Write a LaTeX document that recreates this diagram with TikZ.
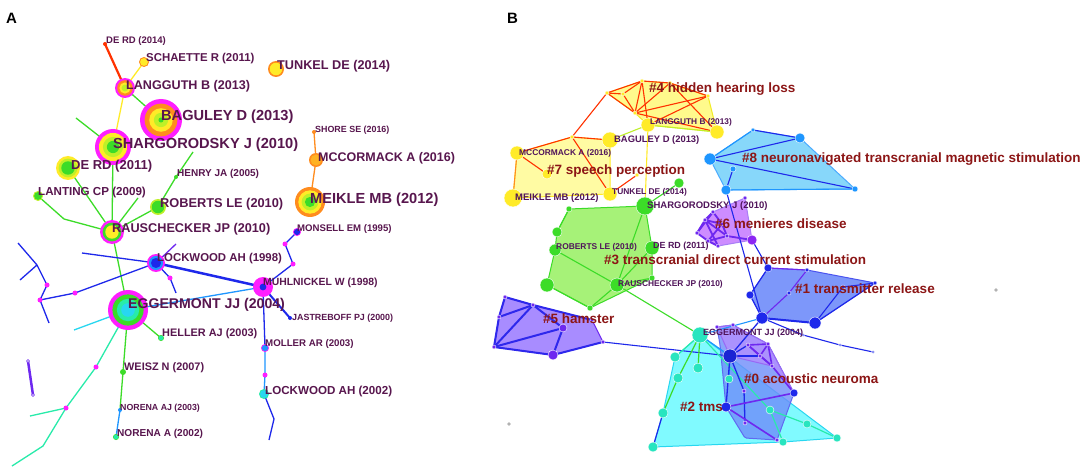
\documentclass[tikz,border=0pt]{standalone}
\usepackage{fontspec}
\setmainfont{Liberation Sans}
\definecolor{lbl}{RGB}{88,22,78}
\definecolor{blbl}{RGB}{80,20,90}
\definecolor{clbl}{RGB}{140,22,22}
\definecolor{burst}{RGB}{255,30,255}
\definecolor{yred}{RGB}{255,50,0}
\definecolor{yorange}{RGB}{255,140,30}
\definecolor{yyellow}{RGB}{255,235,40}
\definecolor{ylime}{RGB}{190,240,40}
\definecolor{ygreen}{RGB}{60,220,40}
\definecolor{yspring}{RGB}{40,235,170}
\definecolor{ycyan}{RGB}{40,215,240}
\definecolor{ysky}{RGB}{30,150,255}
\definecolor{yblue}{RGB}{30,40,235}
\definecolor{ypurple}{RGB}{110,40,240}
\definecolor{hyellow}{RGB}{255,250,140}
\definecolor{hgreen}{RGB}{166,242,120}
\definecolor{hpurple}{RGB}{168,140,255}
\definecolor{hcyan}{RGB}{128,250,255}
\definecolor{hblue}{RGB}{110,140,250}
\definecolor{hlilac}{RGB}{205,140,255}
\definecolor{hsky}{RGB}{135,215,250}
\newcommand\ringnode[4]{\coordinate (#1) at (#2);
  \foreach \rc [count=\k] in {#4} {\fill[\rc] (#1) circle ({#3*(1-0.22*(\k-1))*1pt});}}
\newcommand\bdot[3]{\filldraw[fill=#3, draw=white, line width=0.4pt] (#1) circle (#2pt);}
\tikzset{
  ed/.style={draw=#1, line width=1.3pt},
  hull/.style={fill=#1, rounded corners=1.5pt, line width=1pt},
  labA/.style={anchor=west, inner sep=0pt, text=lbl, font=\fontsize{#1}{#1}\selectfont\bfseries},
  labB/.style={anchor=west, inner sep=0pt, text=blbl, font=\fontsize{#1}{#1}\selectfont\bfseries},
  clus/.style={anchor=west, inner sep=0pt, text=clbl, font=\fontsize{13.5}{14}\selectfont\bfseries},
  panel/.style={anchor=west, inner sep=0pt, font=\fontsize{15}{15}\selectfont\bfseries}
}
\begin{document}
\begin{tikzpicture}[x=1pt, y=-1pt]
  \useasboundingbox (0,0) rectangle (1084,473);
  \fill[white] (0,0) rectangle (1084,473);

  % ---- panel A: timeline of co-cited references
  \coordinate (dra) at (105,44);   \coordinate (sch) at (144,62);
  \coordinate (lan) at (125,88);   \coordinate (tun) at (276,69);
  \coordinate (bag) at (161,120);  \coordinate (sha) at (113,147);
  \coordinate (drb) at (68,168);   \coordinate (sho) at (314,132);
  \coordinate (mcc) at (316,160);  \coordinate (mei) at (310,202);
  \coordinate (lnt) at (38,196);   \coordinate (hen) at (176,177);
  \coordinate (rob) at (158,207);  \coordinate (rau) at (112,232);
  \coordinate (mon) at (297,232);  \coordinate (lka) at (156,263);
  \coordinate (muh) at (263,287);  \coordinate (egg) at (128,310);
  \coordinate (jas) at (290,318);  \coordinate (hel) at (161,338);
  \coordinate (mol) at (265,348);  \coordinate (wei) at (123,372);
  \coordinate (lkb) at (264,394);  \coordinate (nra) at (120,410);
  \coordinate (nrb) at (116,437);
  \coordinate (a1) at (76,118);  \coordinate (a3) at (64,219);
  \coordinate (a4) at (193,152); \coordinate (a5) at (138,198);
  \coordinate (b1) at (18,243);  \coordinate (b2) at (37,265);
  \coordinate (b3) at (20,280);  \coordinate (b4) at (47,285);
  \coordinate (b5) at (40,300);  \coordinate (b6) at (49,323);
  \coordinate (b7) at (75,293);  \coordinate (b8) at (82,253);
  \coordinate (b9) at (176,244); \coordinate (b10) at (170,278);
  \coordinate (b11) at (176,293);
  \coordinate (c1) at (285,244); \coordinate (c2) at (293,264);
  \coordinate (d1) at (74,330);  \coordinate (d2) at (96,367);
  \coordinate (d3) at (66,408);  \coordinate (d4) at (30,416);
  \coordinate (d5) at (43,446);  \coordinate (d6) at (12,466);
  \coordinate (e1) at (265,375); \coordinate (e2) at (274,419);
  \coordinate (e3) at (269,440);
  \coordinate (p1) at (28,361);  \coordinate (p2) at (33,395);

  \draw[ed=yred, line width=2.2pt] (dra) -- (lan);
  \draw[ed=yyellow] (sch) -- (lan);
  \draw[ed=yyellow] (lan) -- (sha);
  \draw[ed=ygreen] (lan) -- (bag);
  \draw[ed=ygreen] (a1) -- (sha) -- (rau);
  \draw[ed=ygreen] (drb) -- (rau);
  \draw[ed=ygreen] (lnt) -- (a3) -- (rau);
  \draw[ed=ygreen] (a4) -- (hen) -- (rob) -- (rau);
  \draw[ed=ygreen] (a5) -- (rau);
  \draw[ed=ygreen] (rau) -- (egg);
  \draw[ed=yorange] (sho) -- (mcc) -- (mei);
  \draw[ed=yblue] (b1) -- (b2) -- (b4) -- (b5) -- (b6);
  \draw[ed=yblue] (b3) -- (b2);
  \draw[ed=yblue] (b5) -- (b7) -- (lka);
  \draw[ed=yblue] (b8) -- (lka);
  \draw[ed=ypurple] (lka) -- (b9);
  \draw[ed=yblue] (lka) -- (b10) -- (b11);
  \draw[ed=yblue, line width=2.5pt] (lka) -- (muh);
  \draw[ed=ysky] (egg) -- (muh);
  \draw[ed=yblue] (muh) -- (c2) -- (c1) -- (mon);
  \draw[ed=yblue, line width=2pt] (muh) -- (jas);
  \draw[ed=yblue] (muh) -- (mol);
  \draw[ed=ysky] (mol) -- (e1) -- (lkb);
  \draw[ed=yblue] (lkb) -- (e2) -- (e3);
  \draw[ed=ycyan] (egg) -- (d1);
  \draw[ed=ygreen] (egg) -- (hel);
  \draw[ed=ygreen] (egg) -- (wei) -- (nra);
  \draw[ed=ysky] (nra) -- (nrb);
  \draw[ed=yspring] (egg) -- (d2) -- (d3) -- (d5) -- (d6);
  \draw[ed=yspring] (d3) -- (d4);
  \draw[ed=ypurple, line width=2.5pt] (p1) -- (p2);

  \ringnode{dra}{105,44}{2}{yred}
  \ringnode{sch}{144,62}{5}{yorange,yyellow}
  \ringnode{lan}{125,88}{10}{burst,yorange,yyellow,ylime}
  \ringnode{tun}{276,69}{8}{yorange,yyellow}
  \ringnode{bag}{161,120}{21}{burst,yorange,yyellow,ylime,ygreen}
  \ringnode{sha}{113,147}{18}{burst,yyellow,ylime,ygreen}
  \ringnode{drb}{68,168}{12}{yyellow,ylime,ygreen}
  \ringnode{sho}{314,132}{2}{yorange}
  \ringnode{mcc}{316,160}{7}{yorange,yorange!60!yyellow}
  \ringnode{mei}{310,202}{15}{yorange,yyellow,ylime,ygreen}
  \ringnode{lnt}{38,196}{5}{ylime,ygreen}
  \ringnode{hen}{176,177}{2}{ygreen}
  \ringnode{rob}{158,207}{8}{ylime,ygreen}
  \ringnode{rau}{112,232}{12}{burst,ygreen,yyellow}
  \ringnode{mon}{297,232}{4}{burst,yblue}
  \ringnode{lka}{156,263}{9}{burst,ysky,yblue}
  \ringnode{muh}{263,287}{10}{burst,burst,burst,yblue}
  \ringnode{egg}{128,310}{20}{burst,ygreen,yspring,ycyan}
  \ringnode{jas}{290,318}{2}{yblue}
  \ringnode{hel}{161,338}{3}{ygreen,yspring}
  \ringnode{mol}{265,348}{4}{burst,ysky}
  \ringnode{wei}{123,372}{3}{ygreen}
  \ringnode{lkb}{264,394}{5}{yspring,ycyan}
  \ringnode{nra}{120,410}{2}{ysky}
  \ringnode{nrb}{116,437}{3}{ygreen,yspring}
  \foreach \j in {b4,b5,b7,b10,c1,c2,d2,d3,e1} {\fill[burst] (\j) circle (2.5pt);}
  \foreach \j in {p1,p2} {\filldraw[fill=white, draw=ypurple] (\j) circle (1.5pt);}

  \node[panel] (pa) at (6,18) {A};
  \node[labA=9.5] (tdra) at (106,41) {DE RD (2014)};
  \node[labA=11.4] (tsch) at (146,59) {SCHAETTE R (2011)};
  \node[labA=12.6] (tlan) at (126,86) {LANGGUTH B (2013)};
  \node[labA=12.7] (ttun) at (277,66) {TUNKEL DE (2014)};
  \node[labA=14.6] (tbag) at (161,117) {BAGULEY D (2013)};
  \node[labA=14.6] (tsha) at (113,145) {SHARGORODSKY J (2010)};
  \node[labA=13] (tdrb) at (71,166) {DE RD (2011)};
  \node[labA=8.9] (tsho) at (315,130) {SHORE SE (2016)};
  \node[labA=12.5] (tmcc) at (318,158) {MCCORMACK A (2016)};
  \node[labA=14.6] (tmei) at (310,200) {MEIKLE MB (2012)};
  \node[labA=11.6] (tlnt) at (38,193) {LANTING CP (2009)};
  \node[labA=10] (then) at (177,174) {HENRY JA (2005)};
  \node[labA=12.8] (trob) at (160,204) {ROBERTS LE (2010)};
  \node[labA=12.7] (trau) at (112,229) {RAUSCHECKER JP (2010)};
  \node[labA=9.6] (tmon) at (297,229) {MONSELL EM (1995)};
  \node[labA=11.4] (tlka) at (157,259) {LOCKWOOD AH (1998)};
  \node[labA=10.4] (tmuh) at (263,283) {MUHLNICKEL W (1998)};
  \node[labA=14.1] (tegg) at (128,305) {EGGERMONT JJ (2004)};
  \node[labA=8.9] (tjas) at (292,318) {JASTREBOFF PJ (2000)};
  \node[labA=10.9] (thel) at (162,334) {HELLER AJ (2003)};
  \node[labA=9.7] (tmol) at (265,344) {MOLLER AR (2003)};
  \node[labA=10.9] (twei) at (124,368) {WEISZ N (2007)};
  \node[labA=11.6] (tlkb) at (265,391) {LOCKWOOD AH (2002)};
  \node[labA=8.8] (tnra) at (120,408) {NORENA AJ (2003)};
  \node[labA=10.1] (tnrb) at (117,434) {NORENA A (2002)};

  % ---- panel B: clusters
  \coordinate (f1) at (607,93);  \coordinate (f2) at (623,94);
  \coordinate (f3) at (642,81);  \coordinate (f4) at (670,83);
  \coordinate (f5) at (708,96);  \coordinate (f6) at (635,113);
  \coordinate (flan) at (648,125); \coordinate (f7) at (717,132);
  \coordinate (gmcc) at (517,153); \coordinate (gmei) at (513,198);
  \coordinate (g3) at (547,174);   \coordinate (g4) at (572,137);
  \coordinate (gbag) at (610,140); \coordinate (gtun) at (610,194);
  \coordinate (g5) at (637,175);
  \coordinate (gsha) at (645,206); \coordinate (h1) at (569,209);
  \coordinate (h2) at (557,232);   \coordinate (hrob) at (555,250);
  \coordinate (hdr) at (652,248);  \coordinate (h3) at (547,285);
  \coordinate (hrau) at (617,285); \coordinate (h4) at (590,308);
  \coordinate (h5) at (652,278);   \coordinate (h6) at (679,183);
  \coordinate (k1) at (505,297); \coordinate (k2) at (499,317);
  \coordinate (k3) at (533,305); \coordinate (k4) at (494,347);
  \coordinate (k5) at (563,328); \coordinate (k6) at (553,355);
  \coordinate (k7) at (603,342); \coordinate (k8) at (592,320);
  \coordinate (beg) at (700,335); \coordinate (m0) at (730,356);
  \coordinate (n1) at (675,357); \coordinate (n2) at (678,378);
  \coordinate (n3) at (663,413); \coordinate (n4) at (653,447);
  \coordinate (n5) at (698,368); \coordinate (n6) at (729,379);
  \coordinate (n7) at (770,410); \coordinate (n8) at (807,424);
  \coordinate (n9) at (837,438); \coordinate (n10) at (783,442);
  \coordinate (o1) at (726,407); \coordinate (o2) at (744,391);
  \coordinate (o3) at (794,393); \coordinate (o4) at (777,440);
  \coordinate (o5) at (745,423);
  \coordinate (q1) at (748,345); \coordinate (q2) at (768,344);
  \coordinate (q3) at (772,366); \coordinate (q4) at (760,356);
  \coordinate (q5) at (717,327); \coordinate (q6) at (733,325);
  \coordinate (r1) at (768,268); \coordinate (r2) at (807,270);
  \coordinate (r3) at (875,283); \coordinate (r4) at (843,287);
  \coordinate (r5) at (789,293); \coordinate (r6) at (750,295);
  \coordinate (r7) at (762,318); \coordinate (r8) at (815,323);
  \coordinate (r9) at (803,335); \coordinate (r10) at (840,345);
  \coordinate (r11) at (873,352);
  \coordinate (s1) at (697,233); \coordinate (s2) at (713,212);
  \coordinate (s3) at (745,198); \coordinate (s4) at (752,240);
  \coordinate (s5) at (718,246); \coordinate (s6) at (705,220);
  \coordinate (s7) at (722,224); \coordinate (s8) at (708,241);
  \coordinate (s9) at (727,236);
  \coordinate (t1) at (753,130); \coordinate (t2) at (800,138);
  \coordinate (t3) at (710,159); \coordinate (t4) at (726,190);
  \coordinate (t5) at (733,169); \coordinate (t6) at (855,189);
  \coordinate (gd1) at (996,290); \coordinate (gd2) at (509,424);

  \filldraw[hull=hyellow, draw=yyellow!80!ylime] (f1) -- (f3) -- (f4) -- (f5) -- (f7) -- (flan) -- (f6) -- cycle;
  \filldraw[hull=hyellow!80!white, draw=yyellow] (gmcc) -- (g4) -- (gbag) -- (gtun) -- (gmei) -- cycle;
  \filldraw[hull=hgreen, draw=ygreen] (h1) -- (gsha) -- (hdr) -- (h5) -- (h4) -- (h3) -- (hrob) -- (h2) -- cycle;
  \filldraw[hull=hpurple, draw=ypurple] (k1) -- (k3) -- (k8) -- (k7) -- (k6) -- (k4) -- (k2) -- cycle;
  \filldraw[hull=hcyan, draw=ycyan] (beg) -- (n9) -- (n10) -- (n4) -- (n3) -- (n1) -- cycle;
  \filldraw[hull=hblue, draw=yblue!70, fill opacity=0.8] (q5) -- (q6) -- (q2) -- (o3) -- (o4) -- (745,438) -- (o1) -- (720,345) -- cycle;
  \filldraw[hull=hlilac!80!hblue, draw=ypurple!70, fill opacity=0.7] (q5) -- (q6) -- (q2) -- (o3) -- (q3) -- (m0) -- cycle;
  \filldraw[hull=hblue!90!white, draw=yblue!80] (r1) -- (r2) -- (r3) -- (r8) -- (r7) -- (r6) -- cycle;
  \filldraw[hull=hlilac, draw=ypurple!60] (s1) -- (s2) -- (s3) -- (s4) -- (s5) -- cycle;
  \filldraw[hull=hsky, draw=ysky!80] (t1) -- (t2) -- (t6) -- (t4) -- (t3) -- cycle;

  \foreach \u/\v in {f1/f3, f2/f3, f1/f2, f3/f4, f4/f5, f1/f6, f2/f6, f3/f6, f4/f6, f6/f5, f3/flan, f6/f7, f4/f7, f5/flan,
      gmcc/g4, g4/gbag, g4/gtun, gmcc/g3, gtun/g5, f1/g4}
    {\draw[ed=yred, line width=1.1pt] (\u) -- (\v);}
  \draw[ed=yorange, line width=1.1pt] (gmcc) -- (gmei);
  \draw[ed=ylime, line width=1.1pt] (gbag) -- (flan) -- (f7);
  \draw[ed=yyellow, line width=1.1pt] (flan) -- (gsha);
  \foreach \u/\v in {h6/gsha, gsha/hrau, hrob/hrau, h3/h4, h4/hrau, hrau/h5, hdr/hrau, h1/h2, hrau/beg}
    {\draw[ed=ygreen, line width=1.1pt] (\u) -- (\v);}
  \foreach \u/\v in {k1/k2, k1/k3, k2/k3, k2/k4, k3/k4, k4/k5, k4/k6, k3/k5, k5/k6, k6/k7, k3/k8}
    {\draw[ed=yblue!80!ypurple, line width=2pt] (\u) -- (\v);}
  \draw[ed=yblue, line width=1.1pt] (k7) -- (m0);
  \foreach \u/\v in {beg/n1, beg/n7, n7/n8, n8/n9, n7/n10}
    {\draw[ed=yspring, line width=1.2pt] (\u) -- (\v);}
  \foreach \u/\v in {beg/n2, n2/n3, beg/n5}
    {\draw[ed=ygreen, line width=1.2pt] (\u) -- (\v);}
  \draw[ed=yblue, line width=1.2pt] (n3) -- (n4);
  \draw[ed=ysky, line width=1.2pt] (beg) -- (m0) -- (n6);
  \foreach \u/\v in {m0/o1, m0/o2, o2/o5, m0/q1, q4/m0, r7/m0}
    {\draw[ed=yblue, line width=1.3pt] (\u) -- (\v);}
  \foreach \u/\v in {o1/o4, o1/o3, o3/q3, q1/q2, q2/q3, q3/q4, q1/q3, q2/q4, q1/q4}
    {\draw[ed=ypurple, line width=1.6pt] (\u) -- (\v);}
  \foreach \u/\v in {r1/r2, r2/r5, r5/r7}
    {\draw[ed=ypurple, line width=1.1pt] (\u) -- (\v);}
  \draw[ed=yblue, line width=2pt] (r7) -- (r8);
  \foreach \u/\v in {r8/r3, r8/r4, r4/r3, r7/r6, r6/r1, r7/r9, r9/r10, r10/r11, t4/r7, s4/r1}
    {\draw[ed=yblue, line width=1.1pt] (\u) -- (\v);}
  \draw[ed=ysky, line width=1.1pt] (r7) -- (beg);
  \foreach \u/\v in {s6/s7, s6/s9, s7/s8, s8/s9, s1/s6, s1/s8, s2/s7, s6/s5, s9/s4, s1/s2, s7/s9, s8/s5, s2/s6}
    {\draw[ed=ypurple, line width=1.8pt] (\u) -- (\v);}
  \foreach \u/\v in {t1/t2, t3/t2, t3/t6, t5/t4}
    {\draw[ed=yblue, line width=1.1pt] (\u) -- (\v);}
  \draw[ed=ysky, line width=1.1pt] (t4) -- (t6);
  \draw[ed=ysky, line width=1.1pt] (t3) -- (t1);

  \foreach \j in {f1,f2,f3,f4,f5,f6,g4,g5} {\bdot{\j}{2}{yyellow}}
  \bdot{flan}{7}{yyellow} \bdot{f7}{7}{yyellow}
  \bdot{gmcc}{7}{yyellow} \bdot{gmei}{9}{yyellow} \bdot{g3}{5}{yyellow}
  \bdot{gbag}{8}{yyellow} \bdot{gtun}{7}{yyellow}
  \bdot{gsha}{9}{ygreen} \bdot{h6}{5}{ygreen} \bdot{h1}{3}{ygreen}
  \bdot{h2}{5}{ygreen} \bdot{hrob}{6}{ygreen} \bdot{hdr}{7}{ygreen}
  \bdot{h3}{7}{ygreen} \bdot{hrau}{7}{ygreen} \bdot{h4}{3}{ygreen} \bdot{h5}{3}{ygreen}
  \foreach \j in {k1,k2,k3,k4,k7,k8} {\bdot{\j}{2}{ypurple}}
  \bdot{k5}{4}{ypurple} \bdot{k6}{5}{ypurple}
  \bdot{beg}{8}{yspring!70!ycyan}
  \foreach \j in {n1,n2,n3,n4,n5} {\bdot{\j}{5}{yspring!70!ycyan}}
  \foreach \j in {n6,n7,n8,n9,n10} {\bdot{\j}{4}{yspring!70!ycyan}}
  \bdot{m0}{7}{yblue!90!black} \bdot{o1}{5}{yblue} \bdot{o3}{4}{yblue}
  \foreach \j in {o2,o4,o5,q1,q2,q3,q4,q5,q6} {\bdot{\j}{2}{ypurple}}
  \bdot{r1}{4}{yblue} \bdot{r6}{4}{yblue} \bdot{r7}{6}{yblue} \bdot{r8}{6}{yblue}
  \foreach \j in {r2,r3,r4,r5} {\bdot{\j}{2}{yblue}}
  \foreach \j in {r9,r10,r11} {\bdot{\j}{1.5}{yblue}}
  \bdot{s4}{5}{ypurple!80!burst}
  \foreach \j in {s1,s2,s3,s5,s6,s7,s8,s9} {\bdot{\j}{2}{ypurple}}
  \bdot{t3}{6}{ysky} \bdot{t2}{5}{ysky} \bdot{t4}{5}{ysky}
  \bdot{t5}{3}{ysky} \bdot{t1}{2}{ysky} \bdot{t6}{3}{ysky}
  \fill[gray!60] (gd1) circle (1.8pt);
  \fill[gray!60] (gd2) circle (1.8pt);

  \node[panel] (pb) at (507,18) {B};
  \node[clus] (c4) at (649,89) {\#4 hidden hearing loss};
  \node[labB=8.3] (blan) at (650,122) {LANGGUTH B (2013)};
  \node[labB=9.4] (bbag) at (614,140) {BAGULEY D (2013)};
  \node[labB=8.4] (bmcc) at (519,153) {MCCORMACK A (2016)};
  \node[clus] (c7) at (547,171) {\#7 speech perception};
  \node[labB=9.5] (bmei) at (515,198) {MEIKLE MB (2012)};
  \node[labB=8.4] (btun) at (612,192) {TUNKEL DE (2014)};
  \node[labB=9.5] (bsha) at (647,206) {SHARGORODSKY J (2010)};
  \node[labB=8.4] (brob) at (556,247) {ROBERTS LE (2010)};
  \node[labB=8.9] (bdr) at (653,246) {DE RD (2011)};
  \node[clus] (c3) at (604,260) {\#3 transcranial direct current stimulation};
  \node[labB=8.4] (brau) at (618,284) {RAUSCHECKER JP (2010)};
  \node[clus] (c5) at (543,319) {\#5 hamster};
  \node[labB=9] (begg) at (703,333) {EGGERMONT JJ (2004)};
  \node[clus] (c0) at (744,379) {\#0 acoustic neuroma};
  \node[clus] (c2) at (680,407) {\#2 tms};
  \node[clus] (c1) at (795,289) {\#1 transmitter release};
  \node[clus] (c6) at (715,224) {\#6 menieres disease};
  \node[clus] (c8) at (742,159) {\#8 neuronavigated transcranial magnetic stimulation};
\end{tikzpicture}
\end{document}
